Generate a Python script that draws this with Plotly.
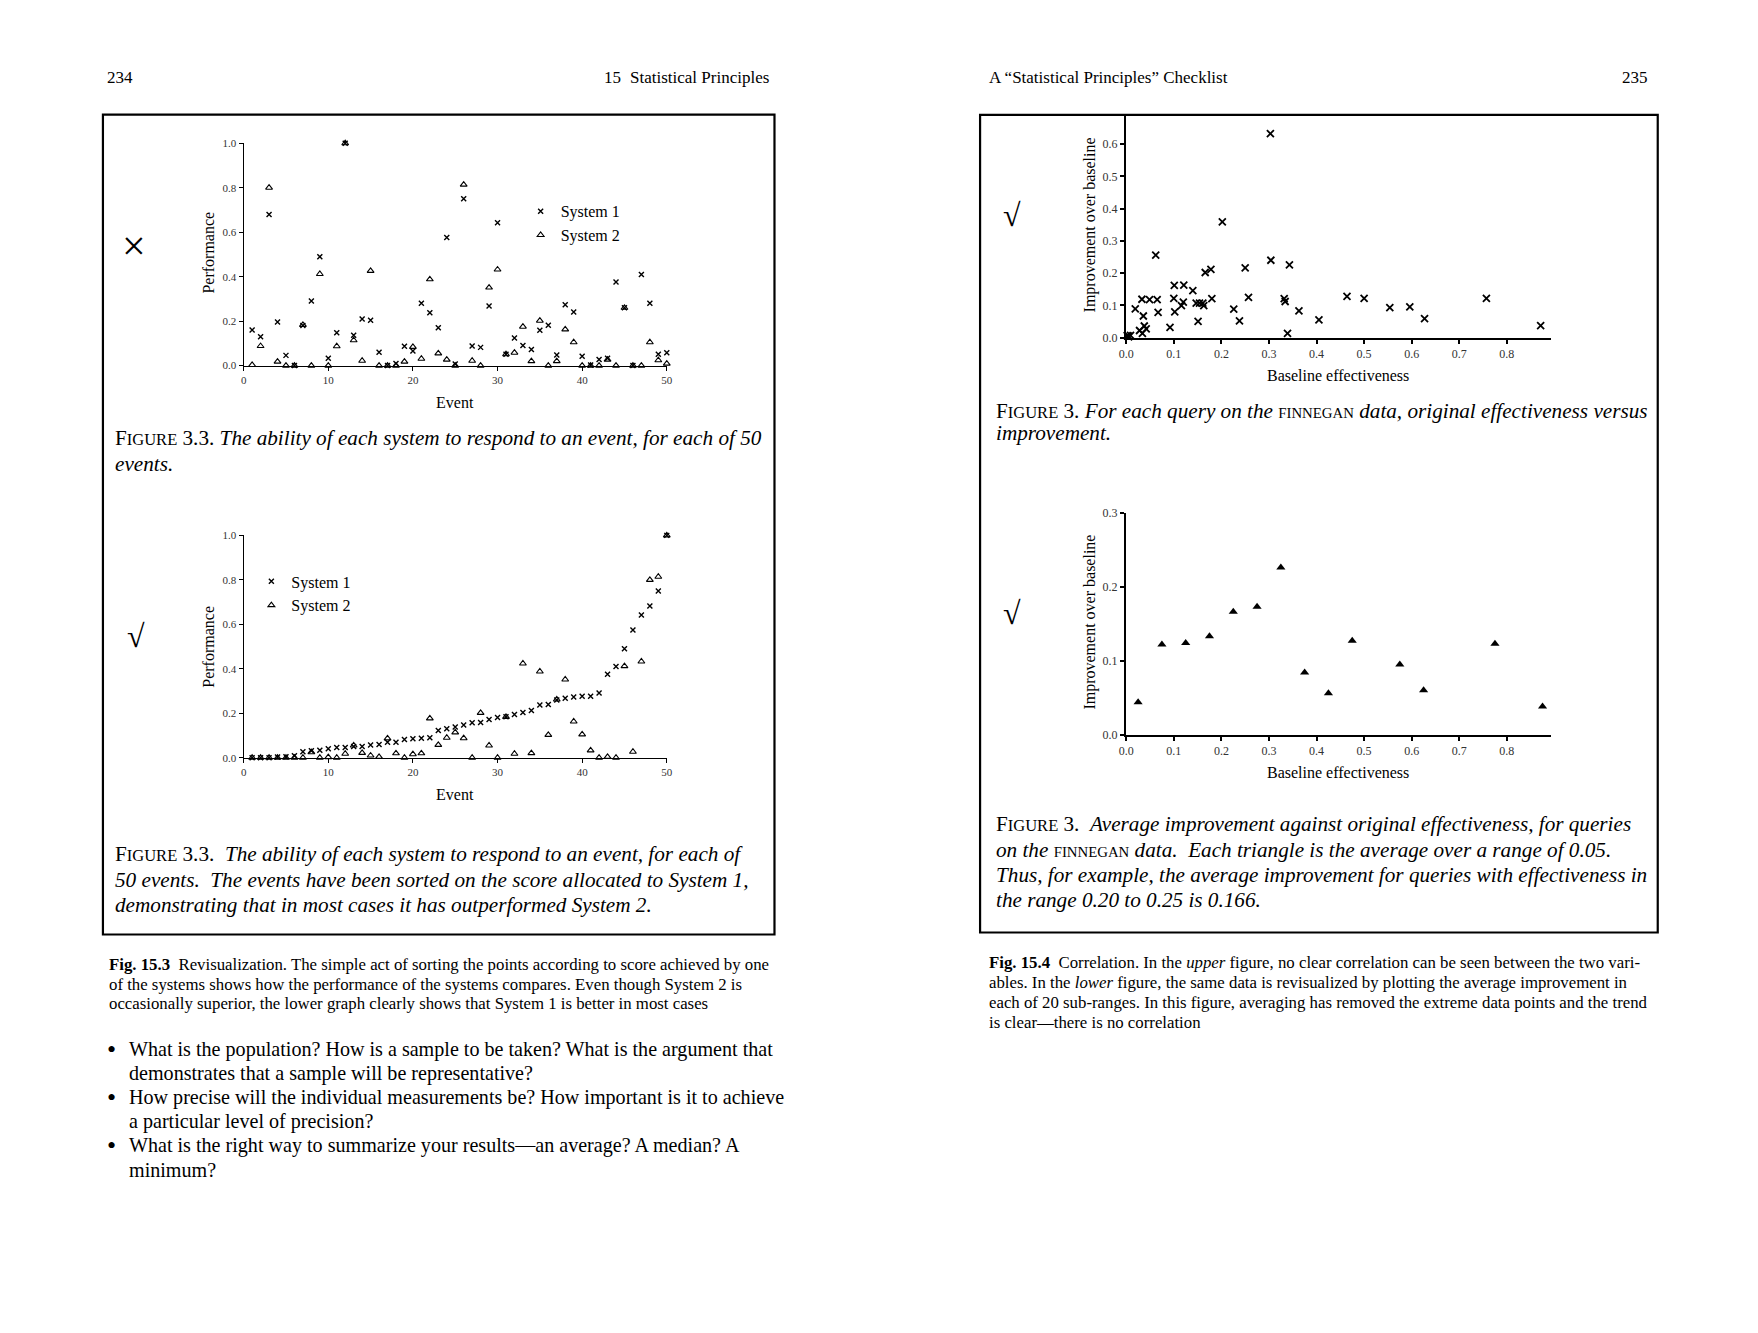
import plotly.graph_objects as go

# the photographed page shows the figure shifted by ~16px and scaled by ~0.99,
# so paper positions are mapped back through that before placing anything
W, H = 1758, 1333
FW, FH = 1742, 1317
SHIFT = 16
SX, SY = 0.991, 0.989
SERIF = "Liberation Serif, Times New Roman, serif"
NB = "\u00a0"

# ---- data ----
events = list(range(1, 51))

sys1_perf = [0.16, 0.13, 0.68, 0.196, 0.046, 0.0, 0.18, 0.29, 0.49, 0.033,
             0.148, 1.0, 0.136, 0.21, 0.204, 0.06, 0.0, 0.01, 0.087, 0.066,
             0.28, 0.238, 0.17, 0.576, 0.007, 0.75, 0.088, 0.082, 0.268, 0.642,
             0.051, 0.124, 0.09, 0.072, 0.159, 0.181, 0.048, 0.274, 0.241, 0.042,
             0.003, 0.028, 0.033, 0.376, 0.26, 0.0, 0.41, 0.28, 0.051, 0.058]
sys2_perf = [0.003, 0.088, 0.80, 0.018, 0.0, 0.0, 0.183, 0.0, 0.412, 0.0,
             0.087, 1.0, 0.114, 0.022, 0.426, 0.0, 0.0, 0.0, 0.018, 0.084,
             0.031, 0.388, 0.055, 0.027, 0.0, 0.814, 0.022, 0.0, 0.351, 0.432,
             0.051, 0.058, 0.175, 0.02, 0.202, 0.0, 0.02, 0.163, 0.105, 0.0,
             0.0, 0.0, 0.027, 0.0, 0.26, 0.0, 0.0, 0.105, 0.024, 0.009]

sys1_sorted = [0.0, 0.0, 0.0, 0.003, 0.005, 0.009, 0.027, 0.032, 0.034, 0.04,
               0.046, 0.046, 0.051, 0.051, 0.057, 0.06, 0.07, 0.07, 0.082, 0.085,
               0.088, 0.09, 0.123, 0.13, 0.138, 0.147, 0.157, 0.159, 0.172, 0.181,
               0.184, 0.195, 0.204, 0.213, 0.237, 0.24, 0.26, 0.268, 0.273, 0.277,
               0.277, 0.291, 0.375, 0.41, 0.49, 0.574, 0.642, 0.682, 0.75, 1.0]
sys2_sorted = [0.0, 0.0, 0.0, 0.0, 0.0, 0.0, 0.0, 0.025, 0.0, 0.003,
               0.0, 0.018, 0.055, 0.022, 0.01, 0.004, 0.087, 0.02, 0.0, 0.016,
               0.02, 0.177, 0.058, 0.09, 0.114, 0.088, 0.0, 0.202, 0.055, 0.0,
               0.184, 0.018, 0.424, 0.021, 0.388, 0.103, 0.262, 0.352, 0.163, 0.105,
               0.033, 0.0, 0.004, 0.0, 0.412, 0.027, 0.433, 0.80, 0.814, 1.0]

baseline_eff = [0.303, 0.202, 0.062, 0.304, 0.343, 0.25, 0.178, 0.166, 0.101, 0.121,
                0.14, 0.033, 0.049, 0.065, 0.1, 0.12, 0.116, 0.147, 0.154, 0.161,
                0.163, 0.18, 0.257, 0.332, 0.334, 0.464, 0.5, 0.554, 0.596, 0.757,
                0.019, 0.036, 0.067, 0.102, 0.226, 0.363, 0.238, 0.151, 0.405, 0.627,
                0.871, 0.092, 0.038, 0.042, 0.028, 0.034, 0.339, 0.004, 0.009, 0.005,
                0.002]
improvement = [0.633, 0.359, 0.256, 0.24, 0.226, 0.216, 0.212, 0.202, 0.162, 0.163,
               0.146, 0.119, 0.118, 0.118, 0.122, 0.11, 0.099, 0.107, 0.107, 0.107,
               0.099, 0.121, 0.125, 0.121, 0.112, 0.128, 0.122, 0.093, 0.095, 0.122,
               0.089, 0.067, 0.078, 0.08, 0.088, 0.083, 0.052, 0.05, 0.055, 0.059,
               0.037, 0.032, 0.036, 0.027, 0.022, 0.013, 0.013, 0.005, 0.007, 0.002,
               0.006]

bin_mid = [0.025, 0.075, 0.125, 0.175, 0.225, 0.275, 0.325, 0.375, 0.425, 0.475,
           0.575, 0.625, 0.775, 0.875]
bin_improvement = [0.044, 0.122, 0.124, 0.133, 0.166, 0.173, 0.226, 0.084, 0.056, 0.127,
                   0.095, 0.06, 0.123, 0.038]


def fx(x):
    return (x / SX - SHIFT) / FW


def fy(y):
    return 1 - (y / SY - SHIFT) / FH


fig = go.Figure()

# left page: the two "events" plots
for ax, y1, y2, leg in [("", sys1_perf, sys2_perf, "legend"),
                        ("2", sys1_sorted, sys2_sorted, "legend2")]:
    fig.add_trace(go.Scatter(
        x=events, y=y1, mode="markers", name="System 1", legend=leg,
        xaxis="x" + ax, yaxis="y" + ax, cliponaxis=False,
        marker=dict(symbol="x-thin", size=5, color="black",
                    line=dict(width=1.4, color="black"))))
    fig.add_trace(go.Scatter(
        x=events, y=y2, mode="markers", name="System 2", legend=leg,
        xaxis="x" + ax, yaxis="y" + ax, cliponaxis=False,
        marker=dict(symbol="triangle-up-open", size=6, color="black",
                    line=dict(width=1.1, color="black"))))

# right page: scatter and binned averages
fig.add_trace(go.Scatter(
    x=baseline_eff, y=improvement, mode="markers", showlegend=False,
    xaxis="x3", yaxis="y3", cliponaxis=False,
    marker=dict(symbol="x-thin", size=7, color="black",
                line=dict(width=1.8, color="black"))))
fig.add_trace(go.Scatter(
    x=bin_mid, y=bin_improvement, mode="markers", showlegend=False,
    xaxis="x4", yaxis="y4", cliponaxis=False,
    marker=dict(symbol="triangle-up", size=8, color="black")))

tickfont_l = dict(family=SERIF, size=11, color="#333")
tickfont_r = dict(family=SERIF, size=12, color="#333")


def axis(dom, rng, tickvals, fmt, lw, tf, anchor):
    return dict(domain=dom, range=rng, tickvals=tickvals, tickformat=fmt,
                showline=True, linecolor="black", linewidth=lw,
                ticks="outside", ticklen=4, tickwidth=lw * 0.8, tickcolor="black",
                tickfont=tf, showgrid=False, zeroline=False, anchor=anchor,
                fixedrange=True)


xl = [fx(243.3), fx(666)]
xr = [fx(1125), fx(1549)]
layout_axes = dict(
    xaxis=axis(xl, [0, 50], [0, 10, 20, 30, 40, 50], "d", 1.3, tickfont_l, "y"),
    yaxis=axis([fy(366.3), fy(144)], [0, 1], [0, 0.2, 0.4, 0.6, 0.8, 1.0], ".1f", 1.3, tickfont_l, "x"),
    xaxis2=axis(xl, [0, 50], [0, 10, 20, 30, 40, 50], "d", 1.3, tickfont_l, "y2"),
    yaxis2=axis([fy(758.3), fy(536)], [0, 1], [0, 0.2, 0.4, 0.6, 0.8, 1.0], ".1f", 1.3, tickfont_l, "x2"),
    xaxis3=axis(xr, [0, 0.892], [0, 0.1, 0.2, 0.3, 0.4, 0.5, 0.6, 0.7, 0.8], ".1f", 2.4, tickfont_r, "y3"),
    yaxis3=axis([fy(338.3), fy(115.7)], [0, 0.691], [0, 0.1, 0.2, 0.3, 0.4, 0.5, 0.6], ".1f", 2.4, tickfont_r, "x3"),
    xaxis4=axis(xr, [0, 0.892], [0, 0.1, 0.2, 0.3, 0.4, 0.5, 0.6, 0.7, 0.8], ".1f", 2.4, tickfont_r, "y4"),
    yaxis4=axis([fy(735.3), fy(513.3)], [0, 0.3], [0, 0.1, 0.2, 0.3], ".1f", 2.4, tickfont_r, "x4"),
)

annotations = []


def text(x, y, s, size, anchor="left", family=SERIF, angle=0, color="black"):
    annotations.append(dict(
        x=fx(x), y=fy(y), xref="paper", yref="paper", text=s, showarrow=False,
        xanchor=anchor, yanchor="middle", textangle=angle,
        font=dict(family=family, size=size, color=color)))


# running heads
text(105, 78.5, "234", 17)
text(622, 78.5, "15", 17, anchor="right")
text(770, 78.5, "Statistical Principles", 17, anchor="right")
text(985.5, 78.5, "A \u201cStatistical Principles\u201d Checklist", 17)
text(1648, 78.5, "235", 17, anchor="right")

# axis titles
for yc, yt in [(253, 403), (647, 795)]:
    text(208, yc, "Performance", 16, anchor="center", angle=-90)
    text(454, yt, "Event", 16, anchor="center")
for yc, yt in [(226, 376), (623, 773)]:
    text(1089, yc, "Improvement over baseline", 16, anchor="center", angle=-90)
    text(1337, yt, "Baseline effectiveness", 16, anchor="center")

# verdict marks
text(134, 247, "\u00d7", 42, anchor="center")
text(136, 637, "\u221a", 32, anchor="center")
text(1011, 216, "\u221a", 32, anchor="center")
text(1011, 614, "\u221a", 32, anchor="center")

CAP = 21.2


def fig_word(num):
    return "F<span style='font-size:%.1fpx'>IGURE</span> %s." % (CAP * 0.78, num)


def sc(word):
    return "<span style='font-size:%.1fpx'>%s</span>" % (CAP * 0.7, word)


# boxed figure captions, left
text(113, 438.4, fig_word("3.3") + " <i>The ability of each system to respond to an event, for each of 50</i>", CAP)
text(113, 464.2, "<i>events.</i>", CAP)
text(113, 854.3, fig_word("3.3") + NB + " <i>The ability of each system to respond to an event, for each of</i>", CAP)
text(113, 880.1, "<i>50 events." + NB + " The events have been sorted on the score allocated to System 1,</i>", CAP)
text(113, 905.9, "<i>demonstrating that in most cases it has outperformed System 2.</i>", CAP)

# boxed figure captions, right
text(993.4, 411.7, fig_word("3") + " <i>For each query on the</i> " + sc("FINNEGAN") +
     " <i>data, original effectiveness versus</i>", CAP)
text(993.4, 433.5, "<i>improvement.</i>", CAP)
text(993.4, 825, fig_word("3") + NB + " <i>Average improvement against original effectiveness, for queries</i>", CAP)
text(993.4, 850.7, "<i>on the</i> " + sc("FINNEGAN") + " <i>data." + NB + " Each triangle is the average over a range of 0.05.</i>", CAP)
text(993.4, 876, "<i>Thus, for example, the average improvement for queries with effectiveness in</i>", CAP)
text(993.4, 900.5, "<i>the range 0.20 to 0.25 is 0.166.</i>", CAP)

# book captions below the boxes
BC = 16.8
text(106.5, 965, "<b>Fig. 15.3</b>" + NB * 2 + "Revisualization. The simple act of sorting the points according to score achieved by one", BC)
text(106.5, 984.5, "of the systems shows how the performance of the systems compares. Even though System 2 is", BC)
text(106.5, 1004, "occasionally superior, the lower graph clearly shows that System 1 is better in most cases", BC)

text(985.5, 962.7, "<b>Fig. 15.4</b>" + NB * 2 + "Correlation. In the <i>upper</i> figure, no clear correlation can be seen between the two vari-", BC)
text(985.5, 982.8, "ables. In the <i>lower</i> figure, the same data is revisualized by plotting the average improvement in", BC)
text(985.5, 1002.9, "each of 20 sub-ranges. In this figure, averaging has removed the extreme data points and the trend", BC)
text(985.5, 1023, "is clear\u2014there is no correlation", BC)

# bullet list
BT = 20.1
bullets = [
    ["What is the population? How is a sample to be taken? What is the argument that",
     "demonstrates that a sample will be representative?"],
    ["How precise will the individual measurements be? How important is it to achieve",
     "a particular level of precision?"],
    ["What is the right way to summarize your results\u2014an average? A median? A",
     "minimum?"],
]
yb = 1050
for lines in bullets:
    text(105, yb, "\u2022", 26)
    for ln in lines:
        text(126.7, yb, ln, BT)
        yb += 24

shapes = [
    dict(type="rect", xref="paper", yref="paper", x0=fx(102.7), x1=fx(773.6),
         y0=fy(935), y1=fy(115.5), line=dict(color="black", width=2.2)),
    dict(type="rect", xref="paper", yref="paper", x0=fx(979), x1=fx(1656),
         y0=fy(933), y1=fy(115.7), line=dict(color="black", width=2.2)),
]

legend_style = dict(xanchor="left", yanchor="top", bgcolor="rgba(0,0,0,0)",
                    font=dict(family=SERIF, size=16, color="black"),
                    itemwidth=30, tracegroupgap=0, borderwidth=0)

fig.update_layout(
    width=FW, height=FH, autosize=False,
    margin=dict(l=0, r=0, t=0, b=0),
    paper_bgcolor="white", plot_bgcolor="white",
    font=dict(family=SERIF, color="black"),
    annotations=annotations, shapes=shapes,
    legend=dict(x=fx(520), y=fy(195), **legend_style),
    legend2=dict(x=fx(251), y=fy(565), **legend_style),
    **layout_axes,
)

fig.write_html("out.html")
